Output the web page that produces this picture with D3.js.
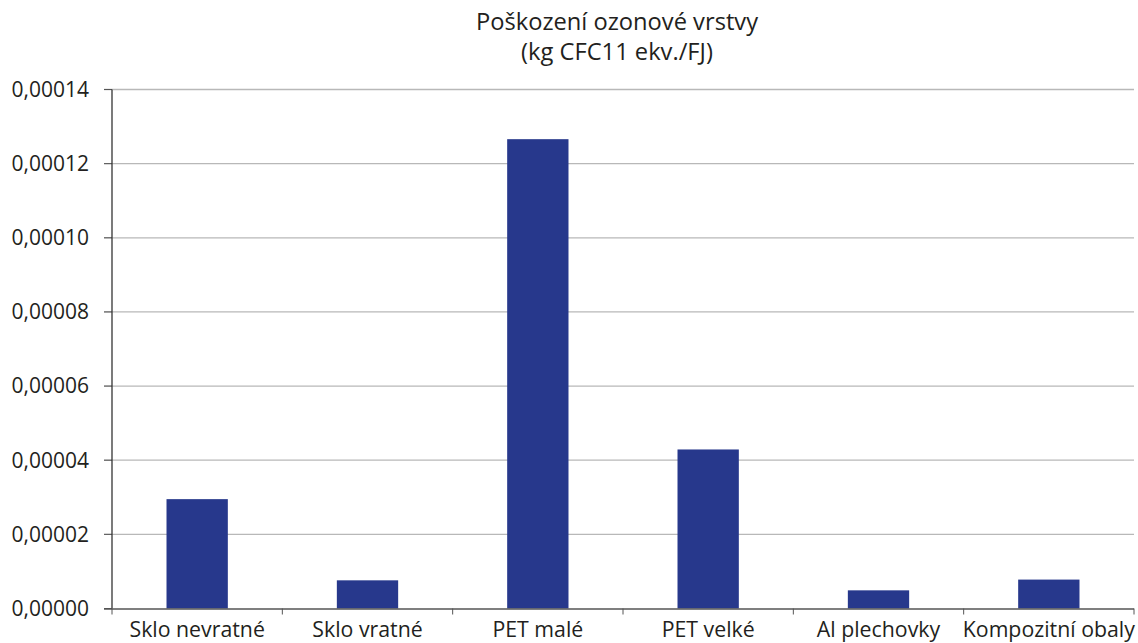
<!DOCTYPE html>
<html><head><meta charset="utf-8">
<script src="https://cdn.jsdelivr.net/npm/d3@7"></script>
<style>body{margin:0;background:#fff;}svg{display:block;font-family:"Open Sans","Noto Sans",sans-serif;}</style>
</head><body>
<svg id="c" width="1138" height="643"></svg>
<script>
const categories = ["Sklo nevratné","Sklo vratné","PET malé","PET velké","Al plechovky","Kompozitní obaly"];
const values = [0.0000295, 0.0000076, 0.0001266, 0.0000429, 0.0000049, 0.0000078];
const yTicks = [0,0.00002,0.00004,0.00006,0.00008,0.0001,0.00012,0.00014];
const titleLines = ["Poškození ozonové vrstvy","(kg CFC11 ekv./FJ)"];

(function(){
const svg = d3.select("#c");
const pL = 112, pR = 1134, pT = 89.5, pB = 608.5;
const x = d3.scaleBand().domain(categories).range([pL,pR]).paddingInner(0.64).paddingOuter(0.32);
const xb = d3.scaleBand().domain(categories).range([pL,pR]);
const y = d3.scaleLinear().domain([0,0.00014]).range([pB,pT]);
const fmt = d => d3.format(".5f")(d).replace(".",",");

svg.append("g").selectAll("line").data(yTicks.slice(1)).join("line")
  .attr("x1",104).attr("x2",pR).attr("y1",d=>y(d)).attr("y2",d=>y(d))
  .attr("stroke","#b8b8b8").attr("stroke-width",1.3);

const yg = svg.append("g");
yg.selectAll("line").data(yTicks).join("line")
  .attr("x1",104).attr("x2",pL).attr("y1",d=>y(d)).attr("y2",d=>y(d))
  .attr("stroke","#555").attr("stroke-width",1);
yg.selectAll("text").data(yTicks).join("text")
  .attr("x",89).attr("y",d=>y(d)).attr("dy","0.35em").attr("text-anchor","end")
  .attr("font-size",21).attr("fill","#231f20").text(fmt);

svg.append("g").selectAll("rect").data(values).join("rect")
  .attr("x",(d,i)=>x(categories[i])).attr("width",x.bandwidth())
  .attr("y",d=>y(d)).attr("height",d=>y(0)-y(d)).attr("fill","#27388c");

svg.append("line").attr("x1",pL).attr("x2",pL).attr("y1",pT).attr("y2",pB)
  .attr("stroke","#333").attr("stroke-width",1.3);
svg.append("line").attr("x1",104).attr("x2",pR).attr("y1",pB+0.5).attr("y2",pB+0.5)
  .attr("stroke","#555").attr("stroke-width",1.3);
const xt = categories.map(c=>xb(c)).concat([pR]);
svg.append("g").selectAll("line").data(xt).join("line")
  .attr("x1",d=>d).attr("x2",d=>d).attr("y1",pB).attr("y2",pB+6)
  .attr("stroke","#555").attr("stroke-width",1);
svg.append("g").selectAll("text").data(categories).join("text")
  .attr("x",d=>xb(d)+xb.bandwidth()/2).attr("y",637).attr("text-anchor","middle")
  .attr("font-size",21.3).attr("fill","#231f20").text(d=>d);

svg.append("g").selectAll("text").data(titleLines).join("text")
  .attr("x",617).attr("y",(d,i)=>30+i*30).attr("text-anchor","middle")
  .attr("font-size",23.7).attr("fill","#231f20").text(d=>d);
})();
</script>
</body></html>
